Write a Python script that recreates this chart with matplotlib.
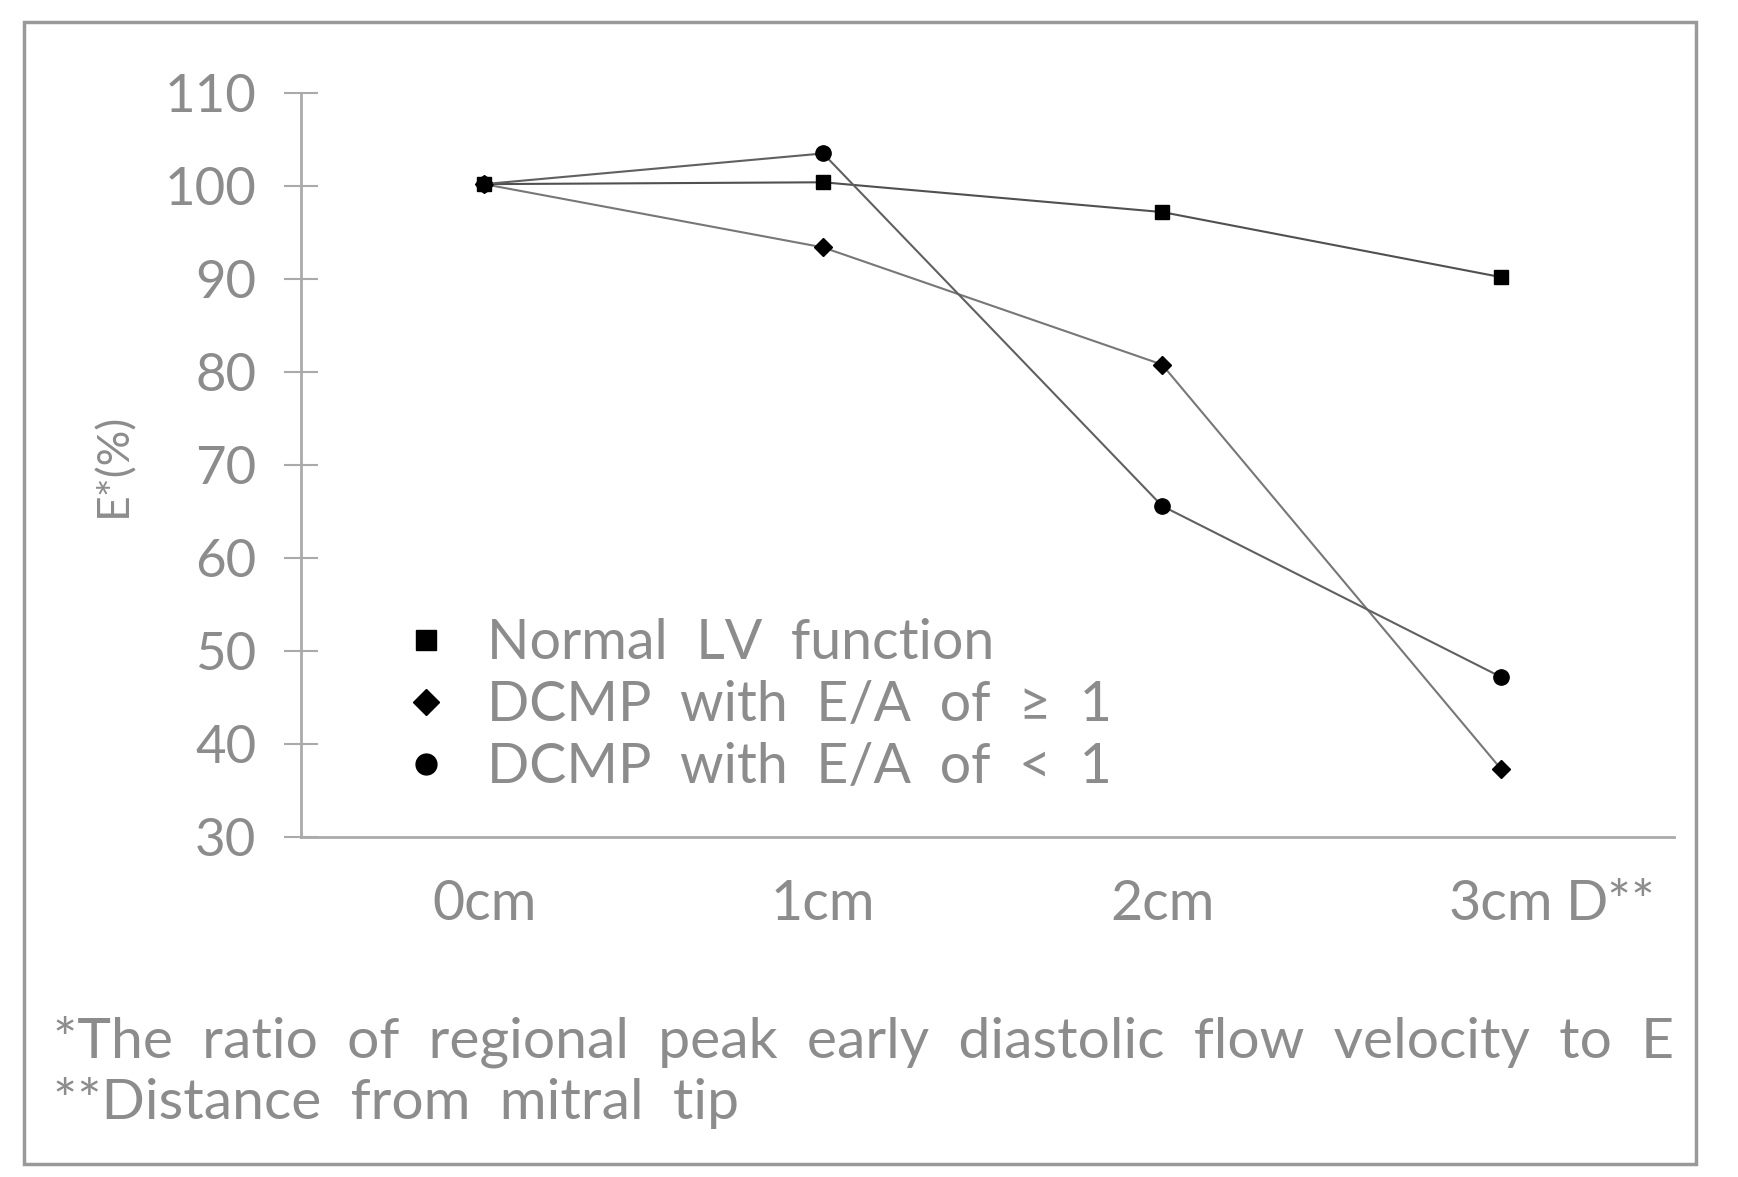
import matplotlib
matplotlib.use('Agg')
import matplotlib.pyplot as plt
from matplotlib.lines import Line2D
from matplotlib.patches import Rectangle

plt.rcParams['font.family'] = ['Lato', 'DejaVu Sans']

# data
positions = ['0cm', '1cm', '2cm', '3cm']
normal_lv = [100.2, 100.4, 97.2, 90.2]
dcmp_ge1 = [100.2, 93.4, 80.8, 37.3]
dcmp_lt1 = [100.2, 103.5, 65.6, 47.2]
legend_labels = ['Normal  LV  function', 'DCMP  with  E/A  of  \u2265  1', 'DCMP  with  E/A  of  <  1']
yticks = [30, 40, 50, 60, 70, 80, 90, 100, 110]

grey = '#8c8c8c'

fig = plt.figure(figsize=(17.38, 11.77), dpi=100)
ax = fig.add_axes([301/1738, 1-837/1177, (1674-301)/1738, (837-93)/1177])

x = list(range(len(positions)))
ax.plot(x, normal_lv, color='#505050', lw=1.5, marker='s', ms=10, mfc='k', mec='k')
ax.plot(x, dcmp_ge1, color='#777777', lw=1.5, marker='D', ms=9, mfc='k', mec='k')
ax.plot(x, dcmp_lt1, color='#606060', lw=1.5, marker='o', ms=11, mfc='k', mec='k')

ax.set_xlim(-0.54, 3.51)
ax.set_ylim(30, 110)
ax.set_yticks(yticks)
ax.set_xticks(x)
ax.set_xticklabels(positions)
ax.tick_params(axis='y', direction='inout', length=24, width=1.5, color='#aaaaaa',
               labelsize=38, labelcolor=grey, pad=20)
ax.tick_params(axis='x', length=0, labelsize=40, labelcolor=grey, pad=30)
for s in ['top', 'right']:
    ax.spines[s].set_visible(False)
for s in ['left', 'bottom']:
    ax.spines[s].set_color('#aaaaaa')
    ax.spines[s].set_linewidth(2)

# "D**" sits after the last tick label
ax.annotate('D**', xy=(3.19, 0), xycoords=('data', 'axes fraction'),
            xytext=(0, -30), textcoords='offset points',
            fontsize=40, color=grey, ha='left', va='top')

ax.set_ylabel('E*(%)', fontsize=32, color=grey, labelpad=22)

handles = [Line2D([], [], ls='none', marker='s', ms=14, color='k'),
           Line2D([], [], ls='none', marker='D', ms=13, color='k'),
           Line2D([], [], ls='none', marker='o', ms=15, color='k')]
leg = ax.legend(handles, legend_labels, loc='center left', bbox_to_anchor=(-0.40, 44.1),
                bbox_transform=ax.transData, frameon=False, fontsize=40,
                labelspacing=0.2, handletextpad=0.6, handlelength=1.0)
for t in leg.get_texts():
    t.set_color(grey)

fig.text(53/1738, 1-1042/1177, '*The  ratio  of  regional  peak  early  diastolic  flow  velocity  to  E',
         fontsize=41, color=grey, va='center', ha='left')
fig.text(53/1738, 1-1103/1177, '**Distance  from  mitral  tip',
         fontsize=41, color=grey, va='center', ha='left')

fig.add_artist(Rectangle((24/1738, 13/1177), (1696-24)/1738, (1155-13)/1177,
                         transform=fig.transFigure, fill=False, ec='#999999', lw=2.5))

plt.savefig('out.png', dpi=100)
